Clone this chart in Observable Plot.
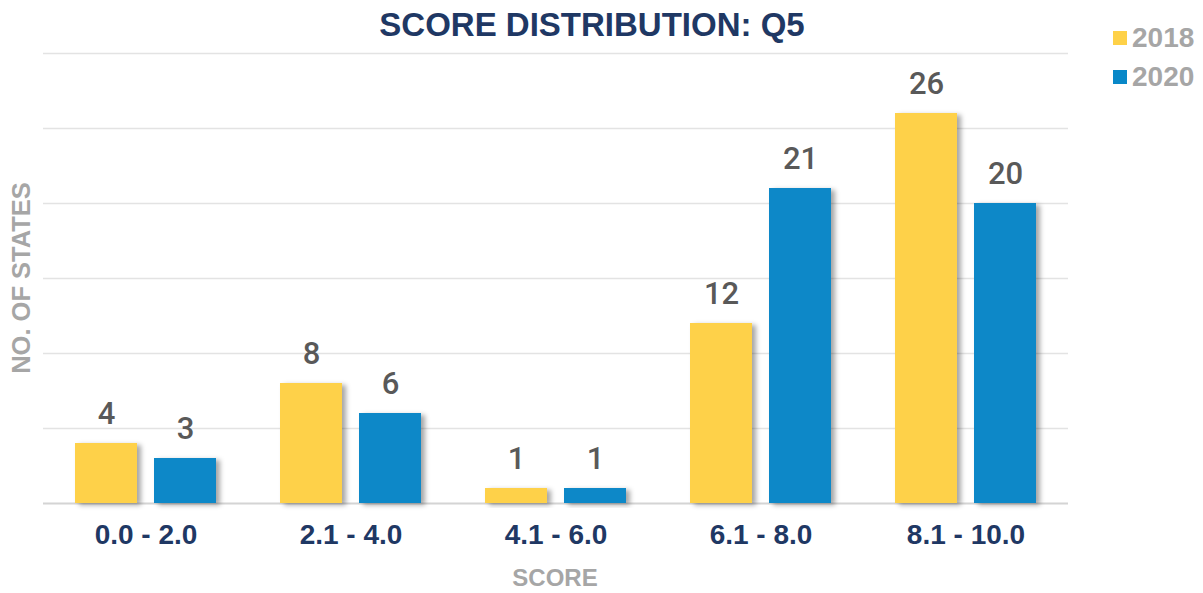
<!DOCTYPE html>
<html>
<head>
<meta charset="utf-8">
<script src="https://cdn.jsdelivr.net/npm/d3@7"></script>
<script src="https://cdn.jsdelivr.net/npm/@observablehq/plot@0.6"></script>
<style>
  html, body { margin: 0; padding: 0; background: #fff; }
  #wrap { position: relative; width: 1203px; height: 593px; overflow: hidden; }
  #title { position: absolute; left: 592px; top: 8px; transform: translateX(-50%); white-space: nowrap;
    font: bold 33px "Liberation Sans Narrow", "Liberation Sans", Arial, sans-serif; color: #1f3864; line-height: 1; }
  #ytitle { position: absolute; left: 22px; top: 278px; transform: translate(-50%, -50%) rotate(-90deg); white-space: nowrap;
    font: bold 25.5px "Liberation Sans", Arial, sans-serif; color: #a6a6a6; line-height: 1; }
  #xtitle { position: absolute; left: 555px; top: 566px; transform: translateX(-50%); white-space: nowrap;
    font: bold 24px "Liberation Sans", Arial, sans-serif; color: #a6a6a6; line-height: 1; }
  .leg { position: absolute; left: 1113px; display: flex; align-items: center; white-space: nowrap;
    font: bold 28px "Liberation Sans", Arial, sans-serif; color: #a6a6a6; line-height: 1; }
  .leg span.sw { display: inline-block; width: 14px; height: 14px; margin-right: 5px; }
</style>
</head>
<body>
<div id="wrap">
  <div id="chart"></div>
  <div id="title">SCORE DISTRIBUTION: Q5</div>
  <div id="ytitle">NO. OF STATES</div>
  <div id="xtitle">SCORE</div>
  <div id="legend"></div>
</div>
<script>
const categories = ["0.0 - 2.0", "2.1 - 4.0", "4.1 - 6.0", "6.1 - 8.0", "8.1 - 10.0"];
const years = ["2018", "2020"];
const values2018 = [4, 8, 1, 12, 26];
const values2020 = [3, 6, 1, 21, 20];
const yTicks = [0, 5, 10, 15, 20, 25, 30];
const colors = ["#fed148", "#0888c8"];

const data = [];
categories.forEach((c, i) => {
  data.push({cat: c, year: years[0], value: values2018[i]});
  data.push({cat: c, year: years[1], value: values2020[i]});
});

const chart = Plot.plot({
  width: 1203,
  height: 593,
  marginLeft: 41,
  marginRight: 133,
  marginTop: 53,
  marginBottom: 90,
  style: {background: "transparent"},
  fx: {domain: categories, padding: 0, label: null},
  x: {domain: years, paddingInner: 0.21, paddingOuter: 0.39, axis: null},
  y: {domain: [0, 30], axis: null},
  color: {domain: years, range: colors},
  marks: [
    Plot.ruleY(yTicks.filter(t => t > 0), {stroke: "#e3e3e3", strokeWidth: 1.5}),
    Plot.ruleY([0], {stroke: "#d4d4d4", strokeWidth: 2}),
    Plot.barY(data, {fx: "cat", x: "year", y: "value", fill: "year"}),
    Plot.text(data, {fx: "cat", x: "year", y: "value", text: d => String(d.value), dy: -20, lineAnchor: "bottom",
      fill: "#595959", fontSize: 31, fontFamily: "Roboto, 'Liberation Sans', sans-serif", fontWeight: 500}),
    Plot.axisFx({anchor: "bottom", tickSize: 0, tickPadding: 21, label: null, fontSize: 28, fontWeight: "bold",
      fill: "#1f3864", fontFamily: "'Liberation Sans', Arial, sans-serif"})
  ]
});

// drop shadow on bars
const ns = "http://www.w3.org/2000/svg";
const defs = document.createElementNS(ns, "defs");
defs.innerHTML = '<filter id="shadow" x="-20%" y="-20%" width="150%" height="150%"><feDropShadow dx="4" dy="2" stdDeviation="2.5" flood-color="#000" flood-opacity="0.35"/></filter>';
chart.insertBefore(defs, chart.firstChild);
chart.querySelectorAll('g[aria-label="bar"] rect').forEach(r => r.setAttribute("filter", "url(#shadow)"));

document.getElementById("chart").appendChild(chart);

const legend = document.getElementById("legend");
years.forEach((y, i) => {
  const d = document.createElement("div");
  d.className = "leg";
  d.style.top = (24 + i * 39) + "px";
  d.innerHTML = '<span class="sw" style="background:' + colors[i] + '"></span>' + y;
  legend.appendChild(d);
});
</script>
</body>
</html>
